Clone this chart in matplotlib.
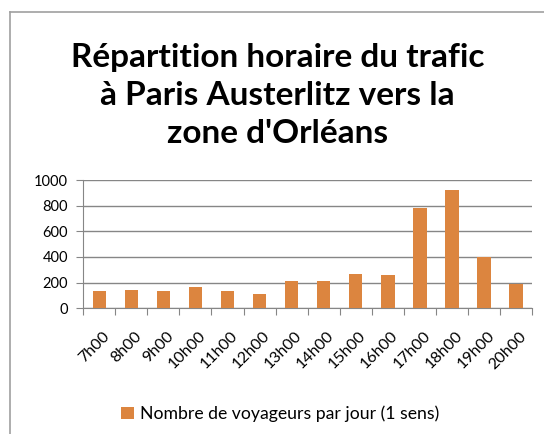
import numpy as np
import matplotlib.pyplot as plt
from matplotlib.lines import Line2D

hours = ['7h00', '8h00', '9h00', '10h00', '11h00', '12h00', '13h00',
         '14h00', '15h00', '16h00', '17h00', '18h00', '19h00', '20h00']
voyageurs = [130, 140, 130, 165, 130, 110, 210, 210, 270, 260, 785, 920, 400, 190]
yticks = [0, 200, 400, 600, 800, 1000]

bar_color = '#DC853F'
grid_color = '#868686'

plt.rcParams['font.family'] = ['Lato', 'DejaVu Sans']

fig = plt.figure(figsize=(5.44, 4.34), dpi=100)
ax = fig.add_axes([0.153, 0.290, 0.825, 0.295])

x = np.arange(len(hours))
ax.bar(x, voyageurs, width=0.42, color=bar_color, zorder=3,
       label='Nombre de voyageurs par jour (1 sens)')

ax.set_xlim(-0.5, len(hours) - 0.5)
ax.set_ylim(0, 1000)
ax.set_yticks(yticks)
ax.set_yticklabels([str(v) for v in yticks], fontsize=10.5)
ax.yaxis.grid(True, color=grid_color, linewidth=1.0, zorder=0)

# ticks between categories, labels at category centres
ax.set_xticks(np.arange(len(hours) + 1) - 0.5)
ax.set_xticklabels([])
ax.set_xticks(x + 0.1, minor=True)
ax.set_xticklabels(hours, minor=True, rotation=45, ha='right', va='top',
                   rotation_mode='anchor', fontsize=11.5)
ax.tick_params(axis='x', which='minor', length=0, pad=15)
ax.tick_params(axis='x', which='major', length=5, color=grid_color)
ax.tick_params(axis='y', length=5, color=grid_color, pad=6)

for side in ['top', 'right']:
    ax.spines[side].set_visible(False)
for side in ['left', 'bottom']:
    ax.spines[side].set_color(grid_color)

fig.text(0.51, 0.78, "Répartition horaire du trafic\nà Paris Austerlitz vers la\nzone d'Orléans",
         ha='center', va='center', fontsize=24, fontweight='bold', linespacing=1.38)

fig.legend(loc='center', bbox_to_anchor=(0.515, 0.046), frameon=False,
           fontsize=12.7, handlelength=0.7, handleheight=0.7, handletextpad=0.35)

# chart frame (partially visible)
fig.add_artist(Line2D([10 / 544, 10 / 544], [0, 1 - 12 / 434], color='#A0A0A0', linewidth=1.2))
fig.add_artist(Line2D([10 / 544, 1], [1 - 12 / 434, 1 - 12 / 434], color='#A0A0A0', linewidth=1.2))

fig.savefig('out.png', dpi=100)
